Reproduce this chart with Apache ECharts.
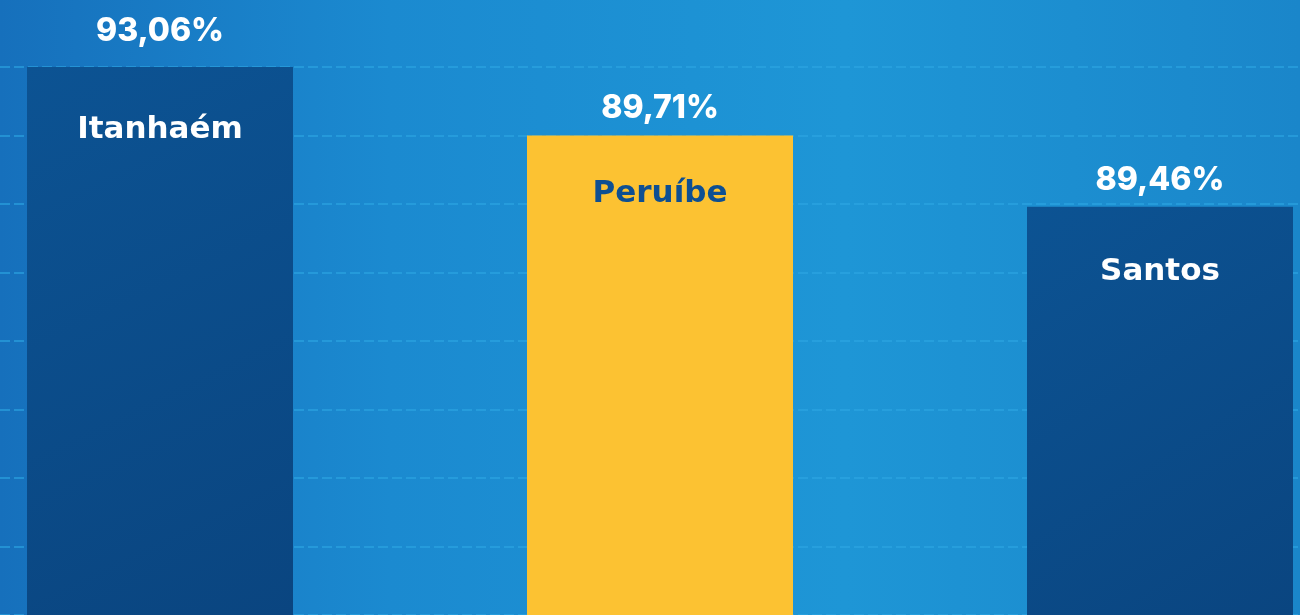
<!DOCTYPE html>
<html>
<head>
<meta charset="utf-8">
<script src="https://cdn.jsdelivr.net/npm/echarts@6/dist/echarts.min.js"></script>
<style>
html,body{margin:0;padding:0;background:#1b8bd0;}
#chart{width:1300px;height:615px;}
</style>
</head>
<body>
<div id="chart"></div>
<script>
// Data
const categories = ['Itanhaém', 'Peruíbe', 'Santos'];
const coverage = [93.06, 89.71, 89.46];          // value labels (%)
// Bar heights as drawn in the reference (in dashed-grid-line units; the original is not to scale)
const barHeights = [8, 7, 5.96];
const highlight = [false, true, false];

const fmt = v => v.toFixed(2).replace('.', ',') + '%';
const VALUE_FONT = 'Inter, "DejaVu Sans", sans-serif';
const NAME_FONT = '"DejaVu Sans", Inter, sans-serif';
const valueLabelDistance = [20, 11, 10];
const nameLabelDistance = [47, 43, 50];

const darkBar = new echarts.graphic.LinearGradient(0, 0, 1, 1, [
  {offset: 0, color: '#0c5393'},
  {offset: 1, color: '#0a4580'}
]);

const chart = echarts.init(document.getElementById('chart'), null, {renderer: 'canvas'});
chart.setOption({
  backgroundColor: new echarts.graphic.LinearGradient(0, 0, 1, 0, [
    {offset: 0, color: '#1670bc'},
    {offset: 0.3, color: '#1b8ad0'},
    {offset: 0.65, color: '#1e96d6'},
    {offset: 1, color: '#1a86ca'}
  ]),
  animation: false,
  grid: {left: 0, right: 0, top: 67, height: 550},
  xAxis: {
    type: 'value',
    min: -0.32, max: 2.28,
    show: false,
    splitLine: {show: false}
  },
  yAxis: {
    type: 'value',
    min: 0, max: 8, interval: 1,
    axisLine: {show: false},
    axisTick: {show: false},
    axisLabel: {show: false},
    splitLine: {show: true, lineStyle: {color: '#2ea6e2', width: 1.5, type: [10, 4], opacity: 0.8}}
  },
  series: [
    {
      type: 'bar',
      barWidth: 266,
      data: barHeights.map((h, i) => ({
        value: [i, h],
        itemStyle: {color: highlight[i] ? '#fcc232' : darkBar},
        label: {distance: valueLabelDistance[i]}
      })),
      label: {
        show: true,
        position: 'top',
        color: '#ffffff',
        fontFamily: VALUE_FONT,
        fontWeight: 800,
        fontSize: 32,
        formatter: p => fmt(coverage[p.dataIndex])
      }
    },
    {
      type: 'bar',
      barWidth: 266,
      barGap: '-100%',
      silent: true,
      data: barHeights.map((h, i) => ({
        value: [i, h],
        itemStyle: {color: 'rgba(0,0,0,0)'},
        label: {color: highlight[i] ? '#0e4f92' : '#ffffff', distance: nameLabelDistance[i]}
      })),
      label: {
        show: true,
        position: 'insideTop',
        fontFamily: NAME_FONT,
        fontWeight: 'bold',
        fontSize: 31,
        formatter: p => categories[p.dataIndex]
      }
    }
  ]
});
</script>
</body>
</html>
